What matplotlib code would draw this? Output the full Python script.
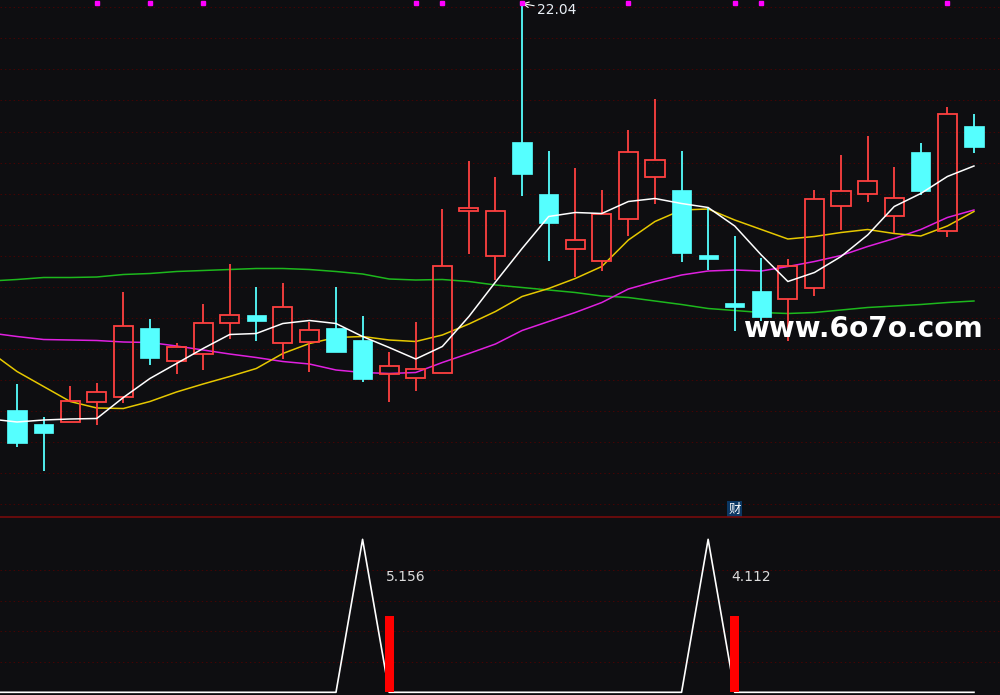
import numpy as np
import matplotlib
matplotlib.use('Agg')
import matplotlib.pyplot as plt

# candle data (index 0..36)
opens  = [13.91, 13.63, 13.66, 14.06, 14.16, 15.55, 14.88, 15.02, 15.64, 15.81,
          15.24, 15.26, 15.55, 15.31, 14.62, 14.54, 14.64, 17.90, 16.99, 19.27,
          18.23, 17.12, 16.90, 17.74, 18.58, 18.31, 17.00, 16.05, 16.29, 16.12,
          16.34, 17.98, 18.22, 17.78, 19.07, 17.48, 19.59]
highs  = [14.43, 13.77, 14.39, 14.45, 16.27, 15.73, 15.25, 16.03, 16.83, 16.37,
          16.45, 15.67, 16.37, 15.79, 15.07, 15.67, 17.93, 18.89, 18.57, 22.04,
          19.09, 18.75, 18.31, 19.51, 20.13, 19.09, 17.97, 17.39, 16.94, 16.92,
          18.31, 19.01, 19.39, 18.77, 19.24, 19.97, 19.83]
lows   = [13.16, 12.68, 13.66, 13.60, 14.04, 14.81, 14.62, 14.70, 15.32, 15.28,
          14.92, 14.66, 15.06, 14.46, 14.06, 14.28, 14.64, 17.03, 16.51, 18.18,
          16.88, 16.58, 16.68, 17.38, 18.02, 16.86, 16.70, 15.48, 15.68, 15.28,
          16.18, 17.51, 18.08, 17.44, 18.21, 17.36, 19.05]
closes = [13.24, 13.44, 14.08, 14.26, 15.58, 14.94, 15.16, 15.64, 15.80, 15.68,
          15.96, 15.50, 15.06, 14.52, 14.78, 14.72, 16.78, 17.94, 17.89, 18.62,
          17.64, 17.31, 17.83, 19.08, 18.90, 17.04, 16.97, 15.98, 15.76, 16.79,
          18.12, 18.28, 18.48, 18.14, 18.29, 19.82, 19.16]

# moving averages, first value is the bar just left of the window (index -1)
ma5  = [13.73, 13.67, 13.71, 13.73, 13.74, 14.16, 14.54, 14.84, 15.14, 15.42, 15.44,
        15.64, 15.70, 15.64, 15.38, 15.16, 14.93, 15.18, 15.78, 16.47, 17.14,
        17.78, 17.86, 17.84, 18.08, 18.14, 18.04, 17.96, 17.59, 17.01, 16.48,
        16.66, 16.98, 17.41, 17.98, 18.24, 18.58, 18.79]
ma10 = [15.07, 14.68, 14.38, 14.08, 13.95, 13.94, 14.08, 14.27, 14.43, 14.58, 14.74,
        15.04, 15.24, 15.36, 15.38, 15.31, 15.28, 15.41, 15.63, 15.88, 16.18,
        16.34, 16.54, 16.78, 17.31, 17.68, 17.91, 17.93, 17.71, 17.52, 17.33,
        17.38, 17.46, 17.52, 17.44, 17.39, 17.59, 17.88]
ma20 = [15.45, 15.38, 15.32, 15.31, 15.30, 15.27, 15.26, 15.19, 15.11, 15.03, 14.96,
        14.88, 14.83, 14.71, 14.66, 14.64, 14.66, 14.86, 15.04, 15.23, 15.50,
        15.68, 15.86, 16.06, 16.33, 16.48, 16.61, 16.69, 16.71, 16.69, 16.78,
        16.88, 17.00, 17.18, 17.34, 17.52, 17.76, 17.91]
ma60 = [16.49, 16.52, 16.56, 16.56, 16.57, 16.62, 16.64, 16.68, 16.70, 16.72, 16.74,
        16.74, 16.72, 16.68, 16.63, 16.53, 16.51, 16.52, 16.48, 16.41, 16.36,
        16.31, 16.26, 16.19, 16.16, 16.09, 16.02, 15.94, 15.90, 15.86, 15.84,
        15.86, 15.91, 15.96, 15.99, 16.02, 16.06, 16.09]

dot_idx = [3, 5, 7, 15, 16, 19, 23, 27, 28, 35]

# lower indicator
ind_line = [0]*37
ind_line[13] = 1.0
ind_line[26] = 1.0
bar_idx = [14, 27]
bar_val = [0.5, 0.5]
bar_labels = ['5.156', '4.112']

bg = '#0e0e11'
up_c = '#ff4040'
dn_c = '#55ffff'
grid_c = '#460404'

fig = plt.figure(figsize=(10, 6.95), dpi=100, facecolor=bg)
ax = fig.add_axes([0, 178/695, 1, 517/695])
ax2 = fig.add_axes([0, 0, 1, 178/695])
for a in (ax, ax2):
    a.set_facecolor(bg)
    a.set_xlim(-0.64, 36.98)
    a.axis('off')

ax.set_ylim(11.77, 22.11)
for k in range(17):
    ax.axhline(21.964 - 0.621*k, color=grid_c, lw=0.7, ls=(0, (1.5, 3)), zorder=0)

x = np.arange(len(opens))
w = 0.36
for i in x:
    o, h, l, c = opens[i], highs[i], lows[i], closes[i]
    if c >= o:
        top, bot = c, o
        if top - bot < 0.06:
            top = bot + 0.06
        ax.vlines(i, top, h, color=up_c, lw=1.3, zorder=3)
        ax.vlines(i, l, bot, color=up_c, lw=1.3, zorder=3)
        ax.add_patch(plt.Rectangle((i - w, bot), 2*w, top - bot, fill=False,
                                   edgecolor=up_c, lw=1.3, zorder=3))
    else:
        top, bot = o, c
        if top - bot < 0.08:
            bot = top - 0.08
        ax.vlines(i, l, h, color=dn_c, lw=1.3, zorder=3)
        ax.add_patch(plt.Rectangle((i - w, bot), 2*w, top - bot, facecolor=dn_c,
                                   edgecolor=dn_c, lw=0.5, zorder=3))

xm = np.arange(-1, len(opens))
ax.plot(xm, ma60, color='#1db81d', lw=1.1, zorder=2)
ax.plot(xm, ma20, color='#e020e0', lw=1.1, zorder=2)
ax.plot(xm, ma10, color='#e6c800', lw=1.1, zorder=2)
ax.plot(xm, ma5, color='#ffffff', lw=1.1, zorder=4)

ax.plot(dot_idx, [22.04]*len(dot_idx), 's', color='#ff00ff', ms=3, zorder=5)

ax.annotate('22.04', xy=(19, 22.04), xytext=(19.56, 21.91), color='#e8eef5',
            fontsize=10, va='center', ha='left',
            arrowprops=dict(arrowstyle='->', color='white', lw=0.8,
                            shrinkA=0, shrinkB=0))

ax.text(27, 11.93, '财', color='white', fontsize=9, ha='center', va='center',
        family=['Noto Sans CJK SC', 'DejaVu Sans'],
        bbox=dict(boxstyle='square,pad=0.1', facecolor='#0b3763', edgecolor='none'))

fig.text(0.743, 1 - 337/695, 'www.6o7o.com', color='white', fontsize=20.2,
         fontweight='bold', ha='left', va='baseline', zorder=10)

# lower panel
ax2.set_ylim(-0.0176, 1.146)
for v in [0.2, 0.4, 0.6, 0.8]:
    ax2.axhline(v, color=grid_c, lw=0.7, ls=(0, (1.5, 3)), zorder=0)
fig.add_artist(plt.Line2D([0, 1], [178/695, 178/695], color='#760b0b', lw=1.2))
ax2.plot(np.arange(-1, 37), [0] + ind_line, color='white', lw=1.2, zorder=2)
ax2.bar(bar_idx, bar_val, width=0.34, color='#ff0000', zorder=3)
for bi, lab in zip(bar_idx, bar_labels):
    ax2.text(bi - 0.12, 0.754, lab, color='#dcdcdc', fontsize=10, ha='left', va='center')

fig.savefig('out.png', dpi=100, facecolor=bg)
